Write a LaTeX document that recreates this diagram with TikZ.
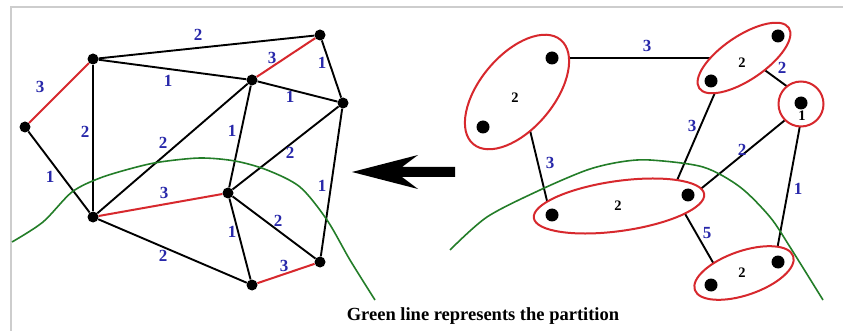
\documentclass[tikz,border=0pt]{standalone}
\usepackage{fontspec}
\setmainfont{Liberation Serif}
\usetikzlibrary{shapes.geometric}
\definecolor{lblblue}{RGB}{40,40,170}
\definecolor{edgered}{RGB}{215,40,45}
\definecolor{partgreen}{RGB}{35,125,40}
\definecolor{framegray}{RGB}{205,205,205}
\begin{document}
\begin{tikzpicture}[x=1pt,y=-1pt,
 dot/.style={circle,fill=black,inner sep=0pt,minimum size=11pt},
 bigdot/.style={circle,fill=black,inner sep=0pt,minimum size=13pt},
 edge/.style={line width=1.9pt,black},
 thinedge/.style={line width=1.2pt,black},
 redge/.style={line width=2pt,edgered},
 wlbl/.style={text=lblblue,font=\bfseries\fontsize{17}{17}\selectfont,inner sep=0pt},
 glbl/.style={text=black,font=\bfseries\fontsize{14.5}{14.5}\selectfont,inner sep=0pt},
 group/.style={ellipse,draw=edgered,line width=2pt,fill=white,inner sep=0pt},
 part/.style={partgreen,line width=1.6pt},
]
\useasboundingbox (0,0) rectangle (843,331);
\fill[white] (0,0) rectangle (843,331);
\draw[framegray,line width=1.5pt] (11,331) -- (11,7) -- (843,7);

% ---------- left graph ----------
\node[dot] (a) at (93,59) {};
\node[dot] (b) at (320,35) {};
\node[dot] (c) at (252,80) {};
\node[dot] (d) at (343,103) {};
\node[dot] (e) at (25,127) {};
\node[dot] (f) at (93,217) {};
\node[dot] (g) at (228,193) {};
\node[dot] (h) at (320,262) {};
\node[dot] (i) at (252,285) {};

\draw[redge] (e) -- (a);
\draw[edge] (a) -- (b);
\draw[edge] (a) -- (c);
\draw[redge] (c) -- (b);
\draw[edge] (b) -- (d);
\draw[edge] (c) -- (d);
\draw[thinedge] (a) -- (f);
\draw[edge] (e) -- (f);
\draw[edge] (f) -- (c);
\draw[edge] (c) -- (g);
\draw[edge] (g) -- (d);
\draw[edge] (d) -- (h);
\draw[redge] (f) -- (g);
\draw[edge] (g) -- (i);
\draw[edge] (g) -- (h);
\draw[edge] (f) -- (i);
\draw[redge] (i) -- (h);

\draw[part] plot[smooth] coordinates {(12,242) (43,222) (72,192) (100,178) (133,168) (160,162) (200,158) (235,161) (267,170) (300,187) (327,220) (350,260) (375,300)};

\node[wlbl] (l1) at (40,87) {3};
\node[wlbl] (l2) at (198,35) {2};
\node[wlbl] (l3) at (168,81) {1};
\node[wlbl] (l4) at (272,58) {3};
\node[wlbl] (l5) at (322,63) {1};
\node[wlbl] (l6) at (290,97) {1};
\node[wlbl] (l7) at (85,132) {2};
\node[wlbl] (l8) at (50,177) {1};
\node[wlbl] (l9) at (163,143) {2};
\node[wlbl] (l10) at (232,131) {1};
\node[wlbl] (l11) at (290,153) {2};
\node[wlbl] (l12) at (322,186) {1};
\node[wlbl] (l13) at (164,193) {3};
\node[wlbl] (l14) at (232,232) {1};
\node[wlbl] (l15) at (278,221) {2};
\node[wlbl] (l16) at (163,256) {2};
\node[wlbl] (l17) at (284,266) {3};

% ---------- arrow ----------
\fill[black] (352,172) -- (418,155) -- (402,167) -- (455,167) -- (455,177) -- (402,177) -- (418,189) -- cycle;

% ---------- right graph ----------
\coordinate (p1) at (565,58);  \coordinate (q1) at (715,58);
\coordinate (p2) at (755,63);  \coordinate (q2) at (792,90);
\coordinate (p3) at (717,88);  \coordinate (q3) at (675,185);
\coordinate (p4) at (790,116); \coordinate (q4) at (697,192);
\coordinate (p5) at (801,120); \coordinate (q5) at (777,250);
\coordinate (p6) at (528,122); \coordinate (q6) at (548,205);
\coordinate (p7) at (684,212); \coordinate (q7) at (715,266);
\draw[edge] (p1) -- (q1);
\draw[edge] (p2) -- (q2);
\draw[edge] (p3) -- (q3);
\draw[edge] (p4) -- (q4);
\draw[edge] (p5) -- (q5);
\draw[edge] (p6) -- (q6);
\draw[edge] (p7) -- (q7);

\node[group,rotate=50,minimum width=136pt,minimum height=74pt] (g1) at (517,92) {};
\node[group,rotate=34,minimum width=108pt,minimum height=44pt] (g2) at (744,58) {};
\node[group,circle,minimum size=45pt] (g3) at (801,104) {};
\node[group,rotate=8,minimum width=172pt,minimum height=50pt] (g4) at (619,206) {};
\node[group,rotate=19,minimum width=104pt,minimum height=44pt] (g5) at (744,273) {};

\node[bigdot] (r1a) at (552,58) {};
\node[bigdot] (r1b) at (483,127) {};
\node[bigdot] (r2a) at (778,36) {};
\node[bigdot] (r2b) at (711,81) {};
\node[bigdot] (r3a) at (801,103) {};
\node[bigdot] (r4a) at (552,215) {};
\node[bigdot] (r4b) at (688,195) {};
\node[bigdot] (r5a) at (711,285) {};
\node[bigdot] (r5b) at (778,262) {};

\draw[part] plot[smooth] coordinates {(450,250) (487,217) (540,190) (587,170) (620,162) (650,160) (703,167) (740,187) (770,217) (790,247) (823,300)};

\node[glbl] (w1) at (515,98) {2};
\node[glbl] (w2) at (742,63) {2};
\node[glbl] (w3) at (802,116) {1};
\node[glbl] (w4) at (618,206) {2};
\node[glbl] (w5) at (742,273) {2};

\node[wlbl] (m1) at (647,46) {3};
\node[wlbl] (m2) at (782,68) {2};
\node[wlbl] (m3) at (692,126) {3};
\node[wlbl] (m4) at (742,150) {2};
\node[wlbl] (m5) at (798,189) {1};
\node[wlbl] (m6) at (550,163) {3};
\node[wlbl] (m7) at (707,233) {5};

\node[font=\bfseries\fontsize{18.5}{18.5}\selectfont,inner sep=0pt,anchor=base] (cap) at (483,320) {Green line represents the partition};
\end{tikzpicture}
\end{document}
